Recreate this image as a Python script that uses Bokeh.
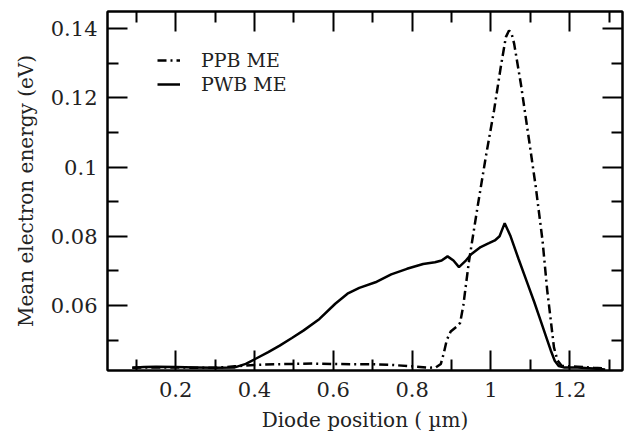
from bokeh.plotting import figure
from bokeh.models import FixedTicker, LinearAxis, Legend, LegendItem, Range1d
from bokeh.embed import file_html
from bokeh.resources import INLINE

# ---- data ----
pwb_x = [0.09, 0.12, 0.15, 0.20, 0.25, 0.30, 0.35, 0.378, 0.403, 0.435, 0.464, 0.495,
         0.525, 0.565, 0.605, 0.636, 0.666, 0.707, 0.747, 0.787, 0.828, 0.858, 0.875,
         0.890, 0.905, 0.919, 0.935, 0.950, 0.974, 0.995, 1.010, 1.022, 1.035, 1.050,
         1.070, 1.093, 1.110, 1.126, 1.140, 1.152, 1.162, 1.172, 1.185, 1.22, 1.26, 1.29]
pwb_y = [0.0420, 0.0422, 0.0423, 0.0422, 0.0421, 0.0420, 0.0421, 0.0431, 0.0446, 0.0465,
         0.0484, 0.0506, 0.0528, 0.0561, 0.0605, 0.0634, 0.0651, 0.0667, 0.0690, 0.0706,
         0.0720, 0.0725, 0.0730, 0.0742, 0.0730, 0.0711, 0.0728, 0.0748, 0.0769, 0.0780,
         0.0788, 0.0800, 0.0838, 0.0800, 0.0735, 0.0663, 0.0610, 0.0557, 0.0510, 0.0470,
         0.0440, 0.0425, 0.0421, 0.0421, 0.0418, 0.0415]

ppb_x = [0.09, 0.15, 0.20, 0.25, 0.30, 0.35, 0.40, 0.45, 0.50, 0.55, 0.60, 0.65, 0.70,
         0.75, 0.80, 0.84, 0.86, 0.873, 0.880, 0.888, 0.898, 0.912, 0.922, 0.930, 0.944,
         0.966, 0.987, 1.008, 1.025, 1.038, 1.046, 1.052, 1.059, 1.076, 1.097, 1.114,
         1.131, 1.143, 1.152, 1.160, 1.169, 1.180, 1.22, 1.26, 1.29]
ppb_y = [0.0420, 0.0421, 0.0421, 0.0420, 0.0420, 0.0424, 0.0428, 0.0430, 0.0431, 0.0432,
         0.0431, 0.0430, 0.0430, 0.0428, 0.0424, 0.0420, 0.0421, 0.0431, 0.0460, 0.0500,
         0.0525, 0.0538, 0.0550, 0.0600, 0.0725, 0.0884, 0.1029, 0.1164, 0.1289, 0.1376,
         0.1395, 0.1388, 0.1357, 0.1241, 0.1077, 0.0942, 0.0788, 0.0643, 0.0557, 0.0479,
         0.0441, 0.0425, 0.0423, 0.0420, 0.0418]

x_major = [0.2, 0.4, 0.6, 0.8, 1.0, 1.2]
x_minor = [0.1, 0.3, 0.5, 0.7, 0.9, 1.1, 1.3]
x_labels = ["0.2", "0.4", "0.6", "0.8", "1", "1.2"]
y_major = [0.06, 0.08, 0.10, 0.12, 0.14]
y_minor = [0.05, 0.07, 0.09, 0.11, 0.13]
y_labels = ["0.06", "0.08", "0.1", "0.12", "0.14"]

series_names = ["PPB ME", "PWB ME"]

FONT = "DejaVu Serif"

p = figure(width=625, height=437, output_backend="svg", toolbar_location=None,
           x_range=Range1d(0.027, 1.334), y_range=Range1d(0.0412, 0.145),
           min_border_left=107, min_border_right=3, min_border_top=11, min_border_bottom=67,
           x_axis_label="Diode position ( \u00b5m)", y_axis_label="Mean electron energy (eV)")
p.grid.visible = False
p.outline_line_color = "black"
p.outline_line_width = 2
p.background_fill_color = "white"
p.border_fill_color = "white"

r_ppb = p.line(ppb_x, ppb_y, line_color="black", line_width=2.5, line_dash="9 4 2 4")
r_pwb = p.line(pwb_x, pwb_y, line_color="black", line_width=2.5)

xt = FixedTicker(ticks=x_major, minor_ticks=x_minor)
yt = FixedTicker(ticks=y_major, minor_ticks=y_minor)

def style(ax, ticker, labels, show_labels):
    ax.ticker = ticker
    ax.axis_line_color = "black"
    ax.axis_line_width = 2
    ax.major_tick_in = 20
    ax.major_tick_out = 0
    ax.minor_tick_in = 11
    ax.minor_tick_out = 0
    ax.major_tick_line_width = 2
    ax.minor_tick_line_width = 2
    ax.major_tick_line_color = "black"
    ax.minor_tick_line_color = "black"
    if show_labels:
        ax.major_label_overrides = {t: l for t, l in zip(ticker.ticks, labels)}
        ax.major_label_text_font = FONT
        ax.major_label_text_font_size = "21px"
        ax.major_label_text_color = "#222222"
        ax.axis_label_text_font = FONT
        ax.axis_label_text_font_size = "20px"
        ax.axis_label_text_font_style = "normal"
        ax.axis_label_text_color = "#222222"
    else:
        ax.major_label_overrides = {t: "" for t in ticker.ticks}
        ax.major_label_standoff = 0

style(p.xaxis[0], xt, x_labels, True)
style(p.yaxis[0], yt, y_labels, True)
p.xaxis[0].major_label_standoff = 11
p.xaxis[0].axis_label_standoff = 8
p.yaxis[0].major_label_standoff = 10
p.yaxis[0].axis_label_standoff = 10

top = LinearAxis()
right = LinearAxis()
style(top, xt, x_labels, False)
style(right, yt, y_labels, False)
p.add_layout(top, "above")
p.add_layout(right, "right")

legend = Legend(items=[LegendItem(label=series_names[0], renderers=[r_ppb]),
                       LegendItem(label=series_names[1], renderers=[r_pwb])],
                location=(50, 275), border_line_color=None, background_fill_alpha=0,
                padding=0, margin=0, spacing=2, glyph_width=23, glyph_height=20,
                label_height=20, label_standoff=21, label_text_font=FONT,
                label_text_font_size="19px", label_text_color="#222222")
p.add_layout(legend, "center")

open("out.html", "w").write(file_html(p, INLINE))
